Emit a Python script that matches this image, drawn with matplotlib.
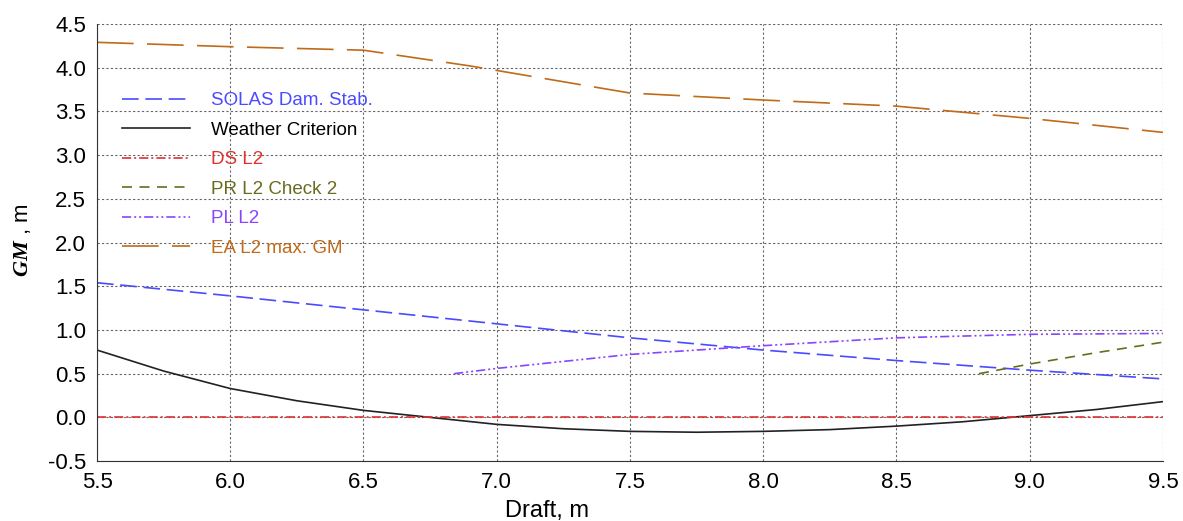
import numpy as np
import matplotlib.pyplot as plt

plt.rcParams['font.family'] = ['Liberation Sans', 'DejaVu Sans']
plt.rcParams['mathtext.fontset'] = 'custom'
plt.rcParams['mathtext.bfit'] = 'Liberation Serif:italic:bold'

# dane
draft = [5.5, 6.0, 6.5, 7.0, 7.5, 8.0, 8.5, 9.0, 9.5]
solas = [1.54, 1.39, 1.23, 1.07, 0.91, 0.77, 0.65, 0.54, 0.44]

draft_wc = [5.5, 5.75, 6.0, 6.25, 6.5, 6.75, 7.0, 7.25, 7.5, 7.75, 8.0, 8.25, 8.5, 8.75, 9.0, 9.25, 9.5]
weather = [0.77, 0.53, 0.33, 0.19, 0.08, 0.0, -0.08, -0.13, -0.16, -0.17, -0.16, -0.14, -0.10, -0.05, 0.02, 0.09, 0.18]

draft_ds = [5.5, 9.5]
ds_l2 = [0.0, 0.0]

draft_pr = [8.81, 9.0, 9.25, 9.5]
pr_l2 = [0.5, 0.61, 0.74, 0.86]

draft_pl = [6.84, 7.0, 7.5, 8.0, 8.5, 9.0, 9.5]
pl_l2 = [0.5, 0.56, 0.72, 0.82, 0.91, 0.95, 0.96]

draft_ea = [5.5, 6.0, 6.5, 6.9, 7.5, 8.0, 8.5, 9.0, 9.5]
ea_l2 = [4.29, 4.24, 4.2, 4.02, 3.71, 3.63, 3.56, 3.42, 3.26]

fig = plt.figure(figsize=(11.83, 5.21), dpi=100)
ax = fig.add_axes([0.082, 0.115, 0.901, 0.839])

ax.plot(draft, solas, color='#4a4aff', lw=1.2, dashes=(10, 4), label='SOLAS Dam. Stab.')
ax.plot(draft_wc, weather, color='#222222', lw=1.2, label='Weather Criterion')
ax.plot(draft_ds, ds_l2, color='#e03030', lw=1.2, dashes=(5.5, 1.8, 1.2, 1.8), label='DS L2')
ax.plot(draft_pr, pr_l2, color='#6b6b1e', lw=1.2, dashes=(6, 4.5), label='PR L2 Check 2')
ax.plot(draft_pl, pl_l2, color='#8844ff', lw=1.2, dashes=(5.5, 1.8, 1.2, 1.8, 1.2, 1.8), label='PL L2')
ax.plot(draft_ea, ea_l2, color='#c06a1a', lw=1.2, dashes=(22, 8), label='EA L2 max. GM')

ax.set_xlim(5.5, 9.5)
ax.set_ylim(-0.5, 4.5)
ax.set_xticks(np.arange(5.5, 9.51, 0.5))
ax.set_yticks(np.arange(-0.5, 4.51, 0.5))
ax.xaxis.set_major_formatter(plt.FormatStrFormatter('%.1f'))
ax.yaxis.set_major_formatter(plt.FormatStrFormatter('%.1f'))
ax.tick_params(direction='in', length=0, labelsize=16, pad=8)
ax.grid(True, color='#666666', linestyle=(0, (2, 2)), lw=0.8)
ax.spines['top'].set_visible(False)
ax.spines['right'].set_visible(False)
ax.spines['left'].set_color('#333333')
ax.spines['bottom'].set_color('#333333')

ax.set_xlabel('Draft, m', fontsize=17)
ax.xaxis.set_label_coords(0.422, -0.088)
ax.set_ylabel(r'$\mathbfit{GM}$ , m', fontsize=16)
ax.yaxis.set_label_coords(-0.06, 0.505)

leg = ax.legend(loc='upper left', bbox_to_anchor=(0.008, 0.883), frameon=False,
                fontsize=13.5, handlelength=3.6, labelspacing=0.66, handletextpad=1.1)
for line, text in zip(leg.get_lines(), leg.get_texts()):
    c = line.get_color()
    text.set_color('black' if c == '#222222' else c)

fig.savefig('out.png', dpi=100)
